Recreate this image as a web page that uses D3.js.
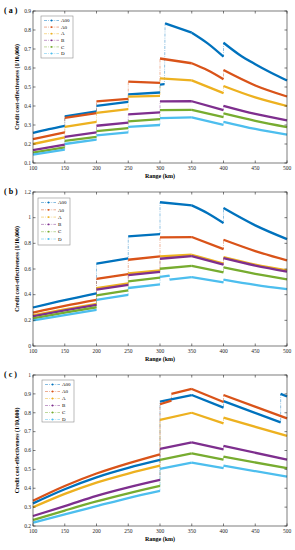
<!DOCTYPE html>
<html><head><meta charset="utf-8">
<script src="https://cdn.jsdelivr.net/npm/d3@7/dist/d3.min.js"></script>
<style>body{margin:0;background:#fff}svg{display:block}text{font-family:"Liberation Serif","DejaVu Serif",serif}</style>
</head><body><svg id="chart" width="295" height="550"></svg>
<script>
const seriesNames = ["A00","A0","A","B","C","D"];
const seriesColors = ["#0072BD","#D95319","#EDB120","#7E2F8E","#77AC30","#4DBEEE"];
const xTicks = [100,150,200,250,300,350,400,450,500];
const yTicksA = [0.1,0.2,0.3,0.4,0.5,0.6,0.7,0.8,0.9];
const yTicksB = [0,0.2,0.4,0.6,0.8,1,1.2];
const yTicksC = [0.2,0.3,0.4,0.5,0.6,0.7,0.8,0.9,1];

// Panel (a): each series = list of continuous segments [[x,y],...]
const aA00 = [[[100,0.258],[125,0.278],[150,0.296]],[[150,0.345],[200,0.372]],[[200,0.401],[250,0.422]],[[250,0.461],[300,0.471]],[[300,0.513],[307,0.515]],[[308,0.835],[350,0.786]],[[350,0.786],[375,0.73],[400,0.66]],[[400,0.733],[425,0.67],[450,0.62],[475,0.575],[500,0.534]]];
const aA0  = [[[100,0.226],[150,0.261]],[[150,0.338],[200,0.362]],[[200,0.424],[250,0.437]],[[250,0.528],[300,0.522]],[[300,0.65],[350,0.625]],[[350,0.625],[375,0.588],[400,0.541]],[[400,0.589],[450,0.508],[500,0.45]]];
const aA   = [[[100,0.2],[150,0.235]],[[150,0.29],[200,0.317]],[[200,0.364],[250,0.383]],[[250,0.449],[300,0.453]],[[300,0.545],[350,0.535]],[[350,0.535],[400,0.468]],[[400,0.505],[450,0.445],[500,0.4]]];
const aB   = [[[100,0.168],[150,0.197]],[[150,0.238],[200,0.261]],[[200,0.296],[250,0.312]],[[250,0.356],[300,0.366]],[[300,0.424],[350,0.425]],[[350,0.425],[400,0.378]],[[400,0.401],[450,0.358],[500,0.324]]];
const aC   = [[[100,0.155],[150,0.182]],[[150,0.216],[200,0.238]],[[200,0.268],[250,0.284]],[[250,0.319],[300,0.331]],[[300,0.378],[350,0.38]],[[350,0.38],[400,0.342]],[[400,0.361],[450,0.322],[500,0.289]]];
const aD   = [[[100,0.144],[150,0.17]],[[150,0.2],[200,0.223]],[[200,0.245],[250,0.261]],[[250,0.29],[300,0.3]],[[300,0.336],[350,0.34]],[[350,0.34],[400,0.301]],[[400,0.317],[450,0.279],[500,0.249]]];

// Panel (b)
const bA00 = [[[100,0.30],[150,0.358],[200,0.411]],[[200,0.641],[250,0.682]],[[250,0.854],[300,0.872]],[[300,1.12],[350,1.096]],[[350,1.096],[375,1.035],[400,0.958]],[[400,1.075],[450,0.94],[500,0.833]]];
const bA0  = [[[100,0.26],[150,0.312],[200,0.359]],[[200,0.523],[250,0.56]],[[250,0.672],[300,0.698]],[[300,0.846],[350,0.849]],[[350,0.849],[400,0.755]],[[400,0.828],[450,0.74],[500,0.667]]];
const bA   = [[[100,0.24],[150,0.286],[200,0.328]],[[200,0.45],[250,0.487]],[[250,0.565],[300,0.59]],[[300,0.698],[350,0.711]],[[350,0.711],[400,0.642]],[[400,0.692],[450,0.634],[500,0.589]]];
const bB   = [[[100,0.232],[150,0.278],[200,0.32]],[[200,0.44],[250,0.476]],[[250,0.552],[300,0.578]],[[300,0.68],[350,0.7]],[[350,0.7],[400,0.634]],[[400,0.684],[450,0.626],[500,0.58]]];
const bC   = [[[100,0.215],[150,0.26],[200,0.302]],[[200,0.395],[250,0.433]],[[250,0.503],[300,0.532]],[[300,0.602],[350,0.625]],[[350,0.625],[400,0.574]],[[400,0.612],[450,0.562],[500,0.52]]];
const bD   = [[[100,0.2],[150,0.241],[200,0.281]],[[200,0.36],[250,0.398]],[[250,0.452],[300,0.48]],[[300,0.539],[315,0.549]],[[315,0.518],[350,0.536]],[[350,0.536],[400,0.495]],[[400,0.518],[450,0.477],[500,0.443]]];

// Panel (c)
const cA00 = [[[100,0.32],[150,0.395],[200,0.458],[250,0.508],[300,0.55]],[[300,0.859],[350,0.894]],[[350,0.894],[400,0.827]],[[400,0.862],[490,0.749]],[[490,0.9],[500,0.886]]];
const cA0  = [[[100,0.334],[150,0.412],[200,0.478],[250,0.532],[300,0.58]],[[300,0.845],[318,0.864]],[[318,0.9],[350,0.926]],[[350,0.926],[400,0.857]],[[400,0.894],[500,0.77]]];
const cA   = [[[100,0.299],[150,0.37],[200,0.43],[250,0.478],[300,0.52]],[[300,0.762],[350,0.8]],[[350,0.8],[400,0.744]],[[400,0.774],[500,0.677]]];
const cB   = [[[100,0.253],[150,0.305],[200,0.36],[250,0.405],[300,0.444]],[[300,0.608],[350,0.643]],[[350,0.643],[400,0.606]],[[400,0.624],[500,0.552]]];
const cC   = [[[100,0.232],[150,0.282],[200,0.33],[250,0.373],[300,0.412]],[[300,0.55],[350,0.585]],[[350,0.585],[400,0.552]],[[400,0.567],[500,0.506]]];
const cD   = [[[100,0.218],[150,0.262],[200,0.305],[250,0.348],[300,0.386]],[[300,0.502],[350,0.536]],[[350,0.536],[400,0.506]],[[400,0.52],[500,0.461]]];

const panels = [
  {title:"( a )", data:[aA00,aA0,aA,aB,aC,aD], yDomain:[0.1,0.9], yTicks:yTicksA, top:11, bottom:163, legend:{x:41,y:16,w:32,h:42,row:6.6}},
  {title:"( b )", data:[bA00,bA0,bA,bB,bC,bD], yDomain:[0,1.2], yTicks:yTicksB, top:192, bottom:346, legend:{x:38,y:198,w:32,h:47,row:7.3}},
  {title:"( c )", data:[cA00,cA0,cA,cB,cC,cD], yDomain:[0.2,1], yTicks:yTicksC, top:375, bottom:526, legend:{x:42,y:380,w:32,h:42,row:7}}
];

const svg = d3.select("#chart");
const L = 33, R = 287;
const axisColor = "#262626";

panels.forEach(p => {
  const x = d3.scaleLinear().domain([100,500]).range([L,R]);
  const y = d3.scaleLinear().domain(p.yDomain).range([p.bottom,p.top]);
  const g = svg.append("g");
  g.append("rect").attr("x",L).attr("y",p.top).attr("width",R-L).attr("height",p.bottom-p.top).attr("fill","#fff");

  const line = d3.line().x(d=>x(d[0])).y(d=>y(d[1]));
  const smooth = d3.line().x(d=>x(d[0])).y(d=>y(d[1])).curve(d3.curveMonotoneX);
  p.data.forEach((segs,i) => {
    const col = seriesColors[i];
    const all = segs.flat();
    g.append("path").attr("d",line(all)).attr("fill","none").attr("stroke",col)
      .attr("stroke-width",0.8).attr("stroke-opacity",0.55).attr("stroke-dasharray","3,1.2,0.8,1.2");
  });
  p.data.forEach((segs,i) => {
    const col = seriesColors[i];
    segs.forEach(s => {
      g.append("path").attr("d",smooth(s)).attr("fill","none").attr("stroke",col)
        .attr("stroke-width",2.3).attr("stroke-linejoin","round");
    });
  });

  const tk = 2.5;
  const ax = g.append("g").attr("stroke",axisColor).attr("stroke-width",0.6).attr("fill","none");
  ax.append("rect").attr("x",L).attr("y",p.top).attr("width",R-L).attr("height",p.bottom-p.top);
  xTicks.forEach(t => {
    ax.append("line").attr("x1",x(t)).attr("x2",x(t)).attr("y1",p.bottom).attr("y2",p.bottom-tk);
    ax.append("line").attr("x1",x(t)).attr("x2",x(t)).attr("y1",p.top).attr("y2",p.top+tk);
  });
  p.yTicks.forEach(t => {
    ax.append("line").attr("x1",L).attr("x2",L+tk).attr("y1",y(t)).attr("y2",y(t));
    ax.append("line").attr("x1",R).attr("x2",R-tk).attr("y1",y(t)).attr("y2",y(t));
  });
  const fs = 5.5;
  xTicks.forEach(t => {
    g.append("text").attr("x",x(t)).attr("y",p.bottom+6.5).attr("text-anchor","middle")
      .attr("font-size",fs).attr("fill",axisColor).text(t);
  });
  p.yTicks.forEach(t => {
    g.append("text").attr("x",L-2).attr("y",y(t)+1.8).attr("text-anchor","end")
      .attr("font-size",fs).attr("fill",axisColor).text(String(+t.toFixed(2)));
  });
  g.append("text").attr("x",(L+R)/2).attr("y",p.bottom+15).attr("text-anchor","middle")
    .attr("font-size",6).attr("font-weight","bold").attr("fill","#000").text("Range (km)");
  g.append("text").attr("transform",`translate(19,${(p.top+p.bottom)/2}) rotate(-90)`)
    .attr("text-anchor","middle").attr("font-size",5.8).attr("font-weight","bold").attr("fill","#000")
    .text("Credit cost-effectiveness (1/10,000)");
  g.append("text").attr("x",4).attr("y",p.top+2).attr("font-size",8).attr("font-weight","bold")
    .attr("fill","#000").attr("xml:space","preserve").text(p.title);

  const lg = p.legend;
  g.append("rect").attr("x",lg.x).attr("y",lg.y).attr("width",lg.w).attr("height",lg.h)
    .attr("fill","#fff").attr("stroke","#8c8c8c").attr("stroke-width",0.6);
  seriesNames.forEach((n,i) => {
    const yy = lg.y + 4.5 + i*lg.row;
    g.append("line").attr("x1",lg.x+3).attr("x2",lg.x+18).attr("y1",yy).attr("y2",yy)
      .attr("stroke",seriesColors[i]).attr("stroke-width",0.8).attr("stroke-opacity",0.6)
      .attr("stroke-dasharray","3,1.2,0.8,1.2");
    g.append("circle").attr("cx",lg.x+10.5).attr("cy",yy).attr("r",0.9).attr("fill",seriesColors[i]);
    g.append("text").attr("x",lg.x+20).attr("y",yy+1.7).attr("font-size",5).attr("fill","#000").text(n);
  });
});
</script></body></html>
